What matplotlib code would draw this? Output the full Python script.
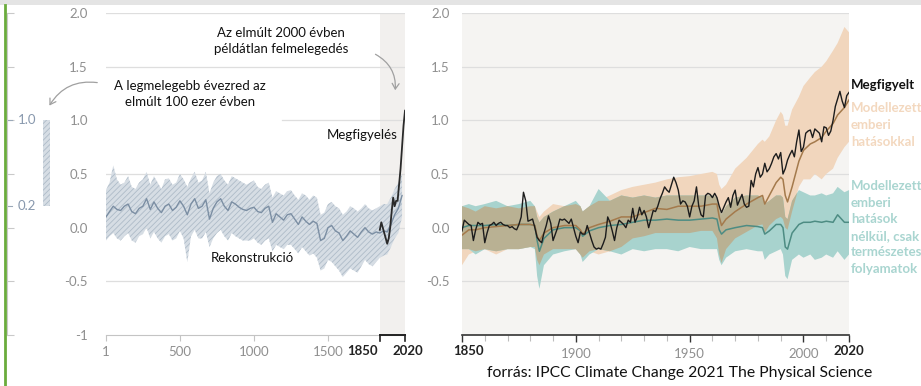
import numpy as np
import matplotlib
matplotlib.use("Agg")
import matplotlib.pyplot as plt
from matplotlib.patches import FancyArrowPatch, Rectangle
from matplotlib.transforms import ScaledTranslation, blended_transform_factory

plt.rcParams['font.family'] = ['Lato', 'DejaVu Sans']
plt.rcParams['hatch.linewidth'] = 0.6

# ---------------- DATA ----------------
# Reconstruction (left panel), 25-year steps
recon_years = [1, 25, 50, 75, 100, 125, 150, 175, 200, 225, 250, 275, 300, 325, 350, 375,
               400, 425, 450, 475, 500, 525, 550, 575, 600, 625, 650, 675, 700, 725, 750,
               775, 800, 825, 850, 875, 900, 925, 950, 975, 1000, 1025, 1050, 1075, 1100,
               1125, 1150, 1175, 1200, 1225, 1250, 1275, 1300, 1325, 1350, 1375, 1400,
               1425, 1450, 1475, 1500, 1525, 1550, 1575, 1600, 1625, 1650, 1675, 1700,
               1725, 1750, 1775, 1800, 1825, 1850, 1875, 1900, 1925, 1950, 1975, 2000]
recon_mean = [0.10, 0.15, 0.20, 0.17, 0.16, 0.20, 0.22, 0.15, 0.13, 0.18, 0.20, 0.27, 0.17,
              0.24, 0.18, 0.14, 0.20, 0.22, 0.16, 0.19, 0.25, 0.20, 0.12, 0.22, 0.27, 0.18,
              0.20, 0.26, 0.08, 0.18, 0.24, 0.27, 0.20, 0.16, 0.24, 0.22, 0.19, 0.17, 0.16,
              0.18, 0.19, 0.15, 0.14, 0.18, 0.20, 0.05, 0.13, 0.10, 0.07, 0.12, 0.13, 0.08,
              0.03, 0.10, 0.06, 0.03, 0.06, 0.04, -0.12, -0.10, 0.00, 0.02, -0.03, -0.05,
              -0.12, -0.08, -0.03, -0.06, -0.09, -0.04, 0.00, -0.04, -0.06, -0.04, -0.05,
              -0.03, -0.04, 0.03, 0.12, 0.18, 0.30]
recon_upper = [0.35, 0.42, 0.58, 0.45, 0.40, 0.42, 0.48, 0.38, 0.36, 0.42, 0.45, 0.52, 0.40,
               0.48, 0.42, 0.36, 0.45, 0.46, 0.40, 0.42, 0.50, 0.45, 0.38, 0.46, 0.52, 0.42,
               0.44, 0.52, 0.32, 0.42, 0.48, 0.50, 0.44, 0.40, 0.48, 0.46, 0.44, 0.42, 0.40,
               0.42, 0.44, 0.38, 0.36, 0.40, 0.42, 0.28, 0.34, 0.32, 0.30, 0.34, 0.35, 0.30,
               0.26, 0.32, 0.30, 0.26, 0.30, 0.28, 0.12, 0.14, 0.22, 0.24, 0.20, 0.18, 0.12,
               0.15, 0.20, 0.18, 0.15, 0.18, 0.22, 0.18, 0.16, 0.18, 0.20, 0.22, 0.22, 0.28,
               0.36, 0.42, 0.50]
recon_lower = [-0.12, -0.08, -0.05, -0.10, -0.12, -0.08, -0.05, -0.12, -0.14, -0.08, -0.06,
               0.00, -0.10, -0.04, -0.10, -0.14, -0.08, -0.06, -0.12, -0.10, -0.03, -0.10,
               -0.32, -0.08, -0.02, -0.10, -0.10, -0.04, -0.18, -0.10, -0.05, -0.02, -0.08,
               -0.12, -0.05, -0.08, -0.10, -0.12, -0.12, -0.12, -0.10, -0.14, -0.16, -0.12,
               -0.10, -0.22, -0.16, -0.18, -0.20, -0.16, -0.16, -0.20, -0.24, -0.18, -0.22,
               -0.26, -0.24, -0.28, -0.40, -0.38, -0.30, -0.32, -0.36, -0.40, -0.46, -0.42,
               -0.38, -0.40, -0.42, -0.36, -0.30, -0.34, -0.36, -0.32, -0.28, -0.26, -0.25,
               -0.18, -0.10, -0.05, 0.10]

# Observations, decadal (left panel)
obs_dec_years = [1850, 1860, 1870, 1880, 1890, 1900, 1910, 1920, 1930, 1940, 1950, 1960,
                 1970, 1980, 1990, 2000, 2010, 2020]
obs_dec_vals = [-0.02, 0.05, 0.00, -0.05, -0.10, -0.15, -0.10, 0.00, 0.15, 0.28, 0.20, 0.25,
                0.25, 0.40, 0.55, 0.75, 0.95, 1.09]

# Observations, annual 1850-2020 (right panel)
obs_years = list(range(1850, 2021))
obs_vals = [-0.03, 0.07, 0.05, 0.03, 0.02, -0.12, -0.02, 0.05, 0.03, 0.04,
            -0.14, -0.05, 0.02, 0.03, 0.05, 0.02, 0.04, 0.05, 0.03, 0.02,
            0.02, 0.00, 0.01, -0.01, -0.02, 0.03, 0.10, 0.33, 0.25, 0.06,
            0.07, 0.08, 0.00, -0.09, -0.12, -0.14, -0.05, 0.02, 0.11, 0.04,
            -0.12, -0.06, 0.00, 0.08, 0.07, 0.08, 0.06, 0.04, 0.08, 0.00,
            -0.08, -0.14, -0.04, -0.06, -0.06, 0.02, -0.05, -0.12, -0.18, -0.20,
            -0.19, -0.20, -0.15, -0.09, 0.10, 0.05, -0.03, -0.12, 0.00, 0.07,
            0.05, 0.03, 0.00, 0.07, 0.05, 0.18, 0.05, 0.10, 0.19, 0.12,
            0.16, 0.10, 0.00, 0.08, 0.16, 0.15, 0.20, 0.27, 0.32, 0.38,
            0.35, 0.33, 0.40, 0.47, 0.42, 0.35, 0.22, 0.25, 0.24, 0.20,
            0.10, 0.20, 0.25, 0.38, 0.20, 0.12, 0.10, 0.30, 0.32, 0.31,
            0.28, 0.32, 0.28, 0.20, 0.14, 0.19, 0.24, 0.28, 0.19, 0.30,
            0.35, 0.21, 0.26, 0.31, 0.22, 0.19, 0.20, 0.44, 0.38, 0.50,
            0.56, 0.47, 0.50, 0.60, 0.52, 0.55, 0.60, 0.66, 0.69, 0.64,
            0.70, 0.50, 0.55, 0.63, 0.68, 0.72, 0.66, 0.80, 0.91, 0.71,
            0.75, 0.88, 0.90, 0.91, 0.84, 0.92, 0.90, 0.88, 0.80, 0.94,
            0.93, 0.86, 0.90, 1.00, 1.13, 1.20, 1.27, 1.18, 1.12, 1.23,
            1.26]

# Model simulations (right panel)
model_years = [1850, 1853, 1856, 1860, 1865, 1870, 1875, 1880, 1882, 1883, 1884, 1886, 1890,
               1895, 1900, 1902, 1903, 1906, 1910, 1915, 1920, 1925, 1930, 1935, 1940, 1945,
               1950, 1955, 1960, 1962, 1963, 1964, 1966, 1970, 1975, 1980, 1982, 1983, 1985,
               1988, 1990, 1991, 1992, 1993, 1995, 1998, 2000, 2003, 2005, 2008, 2010, 2013,
               2015, 2018, 2020]
human_mean = [-0.07, -0.02, -0.02, 0.00, 0.01, 0.02, 0.03, 0.03, 0.02, -0.08, -0.12, -0.05,
              0.00, 0.02, 0.02, -0.02, -0.06, 0.00, 0.03, 0.06, 0.10, 0.10, 0.14, 0.18, 0.17,
              0.20, 0.20, 0.20, 0.22, 0.22, 0.10, 0.02, 0.08, 0.15, 0.22, 0.28, 0.30, 0.22,
              0.30, 0.42, 0.47, 0.45, 0.30, 0.24, 0.38, 0.62, 0.72, 0.78, 0.80, 0.84, 0.90,
              0.97, 1.05, 1.12, 1.19]
human_upper = [0.20, 0.18, 0.15, 0.20, 0.18, 0.20, 0.18, 0.20, 0.20, 0.15, 0.10, 0.15, 0.22,
               0.20, 0.22, 0.20, 0.15, 0.20, 0.25, 0.30, 0.35, 0.38, 0.40, 0.42, 0.45, 0.47,
               0.48, 0.50, 0.52, 0.50, 0.40, 0.36, 0.40, 0.55, 0.65, 0.78, 0.82, 0.80, 0.85,
               1.00, 1.08, 1.05, 0.95, 0.95, 1.10, 1.22, 1.32, 1.40, 1.45, 1.50, 1.55, 1.65,
               1.72, 1.87, 1.82]
human_lower = [-0.35, -0.25, -0.22, -0.20, -0.25, -0.20, -0.20, -0.18, -0.18, -0.30, -0.35,
               -0.25, -0.20, -0.20, -0.20, -0.25, -0.28, -0.22, -0.25, -0.22, -0.18, -0.10,
               -0.08, -0.05, -0.05, -0.05, -0.05, -0.03, -0.03, -0.10, -0.25, -0.33, -0.20,
               -0.10, -0.04, 0.02, 0.03, -0.05, 0.02, 0.08, 0.10, 0.08, 0.00, -0.02, 0.15,
               0.38, 0.45, 0.45, 0.50, 0.45, 0.50, 0.55, 0.65, 0.75, 0.80]
natural_mean = [0.00, 0.02, 0.02, 0.02, 0.03, 0.02, 0.03, 0.03, 0.02, -0.12, -0.22, -0.10,
                -0.02, 0.00, 0.00, -0.03, -0.08, -0.03, 0.00, 0.02, 0.03, 0.05, 0.07, 0.07,
                0.08, 0.07, 0.07, 0.08, 0.09, 0.08, -0.02, -0.06, -0.02, 0.00, 0.02, 0.01,
                0.00, -0.06, -0.03, 0.03, 0.03, 0.00, -0.18, -0.20, -0.05, 0.03, 0.05, 0.05,
                0.06, 0.05, 0.06, 0.05, 0.12, 0.05, 0.05]
natural_upper = [0.20, 0.22, 0.20, 0.22, 0.25, 0.20, 0.22, 0.25, 0.20, 0.10, 0.05, 0.10,
                 0.15, 0.20, 0.25, 0.20, 0.15, 0.20, 0.36, 0.25, 0.30, 0.28, 0.30, 0.28, 0.30,
                 0.30, 0.30, 0.30, 0.30, 0.28, 0.18, 0.12, 0.20, 0.28, 0.30, 0.30, 0.28, 0.22,
                 0.25, 0.30, 0.30, 0.28, 0.10, 0.08, 0.25, 0.35, 0.33, 0.30, 0.30, 0.32, 0.30,
                 0.32, 0.38, 0.33, 0.35]
natural_lower = [-0.20, -0.20, -0.25, -0.20, -0.22, -0.20, -0.20, -0.18, -0.20, -0.45, -0.57,
                 -0.35, -0.25, -0.22, -0.20, -0.25, -0.32, -0.25, -0.20, -0.22, -0.25, -0.20,
                 -0.22, -0.20, -0.20, -0.22, -0.18, -0.20, -0.20, -0.20, -0.30, -0.35, -0.28,
                 -0.22, -0.20, -0.22, -0.22, -0.30, -0.25, -0.22, -0.20, -0.25, -0.45, -0.48,
                 -0.30, -0.25, -0.28, -0.25, -0.30, -0.28, -0.25, -0.28, -0.22, -0.30, -0.25]

# Warmest millennium bar (small left axis)
millennium_low, millennium_high = 0.2, 1.0

# ---------------- STYLE ----------------
W, H = 921, 386
GRID = '#dedede'
TICK = '#8f8f8f'
BAND_FACE = '#d6dde4'
BAND_HATCH = '#aebbc8'
RECON_LINE = '#7b8ea3'
PEACH = '#f1d6bd'
TEAL = '#a8d3ce'
OLIVE = '#b9b193'
BROWN = '#a47a4c'
TEAL_LINE = '#4d8c83'
TS = 9.5


def rect(x0, x1, ytop, ybot):
    return [x0 / W, 1 - ybot / H, (x1 - x0) / W, (ybot - ytop) / H]


fig = plt.figure(figsize=(W / 100, H / 100), dpi=100)
fig.patch.set_facecolor('white')

# top strip and green side line
fig.add_artist(Rectangle((0, 1 - 5 / H), 1, 5 / H, transform=fig.transFigure,
                         facecolor='#e4e4e4', edgecolor='none'))
fig.add_artist(plt.Line2D([5 / W, 5 / W], [0, 1 - 5 / H], transform=fig.transFigure,
                          color='#6aab3c', lw=2))

# ---------------- small left axis ----------------
axs = fig.add_axes(rect(7, 60, 13, 335))
axs.set_xlim(0, 53)
axs.set_ylim(-1, 2)
axs.patch.set_alpha(0)
for s in ['top', 'right', 'bottom']:
    axs.spines[s].set_visible(False)
axs.spines['left'].set_color('#c9c9c9')
axs.spines['left'].set_linewidth(0.8)
axs.set_xticks([])
axs.set_yticks([-1, -0.5, 0, 0.5, 1.0, 1.5, 2.0])
axs.set_yticklabels([])
axs.tick_params(axis='y', direction='in', length=5, color='#c9c9c9', width=0.8)
axs.bar([39.5], [millennium_high - millennium_low], bottom=[millennium_low], width=7,
        facecolor=BAND_FACE, edgecolor=BAND_HATCH, hatch='//////', linewidth=0)
for v, lab in [(1.0, '1.0'), (0.2, '0.2')]:
    axs.plot([0, 5], [v, v], color='#9aa8b8', lw=0.8, clip_on=False)
    axs.text(11, v, lab, ha='left', va='center', color='#8898ad', fontsize=TS)

# ---------------- left main axis ----------------
axl = fig.add_axes(rect(106, 405, 13, 335))
axl.set_xlim(1, 2020)
axl.set_ylim(-1, 2)
axl.patch.set_alpha(0)
for s in ['top', 'right', 'left']:
    axl.spines[s].set_visible(False)
axl.spines['bottom'].set_color('#c4c4c4')
axl.spines['bottom'].set_linewidth(0.8)
axl.axvspan(1850, 2020, color='#f2f0ee', zorder=0, lw=0)
for v in [-0.5, 0.0, 0.5, 1.5, 2.0]:
    axl.axhline(v, color=GRID, lw=0.9, zorder=0.5)
axl.axhline(1.0, xmin=(1190 - 1) / 2019, xmax=1, color=GRID, lw=0.9, zorder=0.5)
axl.set_yticks([-1, -0.5, 0, 0.5, 1.0, 1.5, 2.0])
axl.set_yticklabels(['-1', '-0.5', '0.0', '0.5', '1.0', '1.5', '2.0'])
axl.tick_params(axis='y', length=0, pad=13, labelcolor=TICK, labelsize=TS)
axl.set_xticks([1, 500, 1000, 1500])
axl.set_xticklabels(['1', '500', '1000', '1500'])
axl.tick_params(axis='x', direction='out', length=4, color='#c4c4c4', width=0.8,
                labelcolor=TICK, labelsize=TS, pad=4)
# black bracket 1850-2020
axl.plot([1850, 2020], [-1, -1], color='#222222', lw=1.4, clip_on=False, zorder=5)
for yr in [1850, 2020]:
    axl.plot([yr, yr], [-1, -1.055], color='#222222', lw=1.2, clip_on=False, zorder=5)
trl = blended_transform_factory(axl.transData, axl.transAxes)
axl.text(1850, -0.03, '1850', transform=trl + ScaledTranslation(-2 / 100, 0, fig.dpi_scale_trans),
         ha='right', va='top', fontsize=TS, fontweight='bold', color='#222222')
axl.text(2020, -0.03, '2020', transform=trl + ScaledTranslation(3 / 100, 0, fig.dpi_scale_trans),
         ha='center', va='top', fontsize=TS, fontweight='bold', color='#222222')

axl.fill_between(recon_years, recon_lower, recon_upper, facecolor=BAND_FACE,
                 edgecolor=BAND_HATCH, hatch='//////', linewidth=0, zorder=2)
axl.plot(recon_years, recon_mean, color=RECON_LINE, lw=1.0, zorder=3)
axl.plot(obs_dec_years, obs_dec_vals, color='#2a2a2a', lw=1.3, zorder=4)

# annotations left
fig.text(398 / W, 1 - 135 / H, 'Megfigyelés', fontsize=9.5, color='#111111', ha='right',
         va='center')
fig.text(281 / W, 1 - 41 / H, 'Az elmúlt 2000 évben\npéldátlan felmelegedés', ha='center',
         va='center', fontsize=9.5, color='#111111', linespacing=1.35)
fig.text(190 / W, 1 - 94 / H, 'A legmelegebb évezred az\nelmúlt 100 ezer évben', ha='center',
         va='center', fontsize=9.5, color='#111111', linespacing=1.35,
         bbox=dict(facecolor='white', edgecolor='none', pad=1))
fig.text(252 / W, 1 - 258 / H, 'Rekonstrukció', ha='center', va='center', fontsize=9.5,
         color='#111111')

arr1 = FancyArrowPatch((100, H - 83), (48, H - 108), transform=None,
                       connectionstyle='arc3,rad=0.35', arrowstyle='->,head_length=4,head_width=2.5',
                       color='#a0a0a0', lw=0.9)
arr2 = FancyArrowPatch((373, H - 53), (395, H - 93), transform=None,
                       connectionstyle='arc3,rad=-0.35', arrowstyle='->,head_length=4,head_width=2.5',
                       color='#a0a0a0', lw=0.9)
fig.add_artist(arr1)
fig.add_artist(arr2)

# ---------------- right axis ----------------
axr = fig.add_axes(rect(462, 849, 13, 335))
axr.set_xlim(1850, 2020)
axr.set_ylim(-1, 2)
axr.set_facecolor('#f5f4f2')
for s in ['top', 'right', 'left']:
    axr.spines[s].set_visible(False)
axr.spines['bottom'].set_color('#333333')
axr.spines['bottom'].set_linewidth(1.2)
for v in [-0.5, 0.0, 0.5, 1.0, 1.5, 2.0]:
    axr.axhline(v, color=GRID, lw=0.9, zorder=0.5)
axr.set_yticks([-0.5, 0, 0.5, 1.0, 1.5, 2.0])
axr.set_yticklabels(['-0.5', '0.0', '0.5', '1.0', '1.5', '2.0'])
axr.tick_params(axis='y', length=0, pad=9, labelcolor=TICK, labelsize=TS)
axr.set_xticks([1850, 1900, 1950, 2000, 2020])
axr.set_xticklabels(['', '1900', '1950', '2000', ''])
axr.set_xticks(list(range(1860, 2020, 10)), minor=True)
axr.tick_params(axis='x', which='major', direction='out', length=5, color='#333333', width=1.0,
                labelcolor=TICK, labelsize=TS, pad=4)
axr.tick_params(axis='x', which='minor', direction='out', length=4, color='#bdbdbd', width=0.8)
trr = blended_transform_factory(axr.transData, axr.transAxes)
axr.text(1850, -0.03, '1850', transform=trr + ScaledTranslation(7 / 100, 0, fig.dpi_scale_trans),
         ha='center', va='top', fontsize=TS, fontweight='bold', color='#222222')
axr.text(2020, -0.03, '2020', transform=trr, ha='center', va='top', fontsize=TS,
         fontweight='bold', color='#222222')

hm = np.array(human_mean)
hu = np.array(human_upper)
hl = np.array(human_lower)
nu = np.array(natural_upper)
nl = np.array(natural_lower)
axr.fill_between(model_years, hl, hu, facecolor=PEACH, lw=0, zorder=1)
axr.fill_between(model_years, nl, nu, facecolor=TEAL, lw=0, zorder=1.1)
ov_lo = np.maximum(hl, nl)
ov_hi = np.minimum(hu, nu)
axr.fill_between(model_years, ov_lo, ov_hi, where=ov_hi > ov_lo, interpolate=True,
                 facecolor=OLIVE, lw=0, zorder=1.2)
axr.plot(model_years, natural_mean, color=TEAL_LINE, lw=1.1, zorder=3)
axr.plot(model_years, human_mean, color=BROWN, lw=1.1, zorder=3)
axr.plot(obs_years, obs_vals, color='#1c1c1c', lw=1.0, zorder=4)

# right labels
fig.text(851 / W, 1 - 85 / H, 'Megfigyelt', ha='left', va='center', fontsize=9.5,
         fontweight='bold', color='#111111')
fig.text(851 / W, 1 - 125 / H, 'Modellezett\nemberi\nhatásokkal', ha='left', va='center',
         fontsize=9.5, fontweight='bold', color='#f3d8bf', linespacing=1.45)
fig.text(851 / W, 1 - 227.5 / H, 'Modellezett\nemberi\nhatások\nnélkül, csak\ntermészetes\nfolyamatok',
         ha='left', va='center', fontsize=9.5, fontweight='bold', color='#a9d5d0',
         linespacing=1.45)

fig.text(487 / W, 1 - 373 / H, 'forrás: IPCC Climate Change 2021 The Physical Science',
         ha='left', va='center', fontsize=11.3, color='#111111')

fig.savefig('out.png', dpi=100)
